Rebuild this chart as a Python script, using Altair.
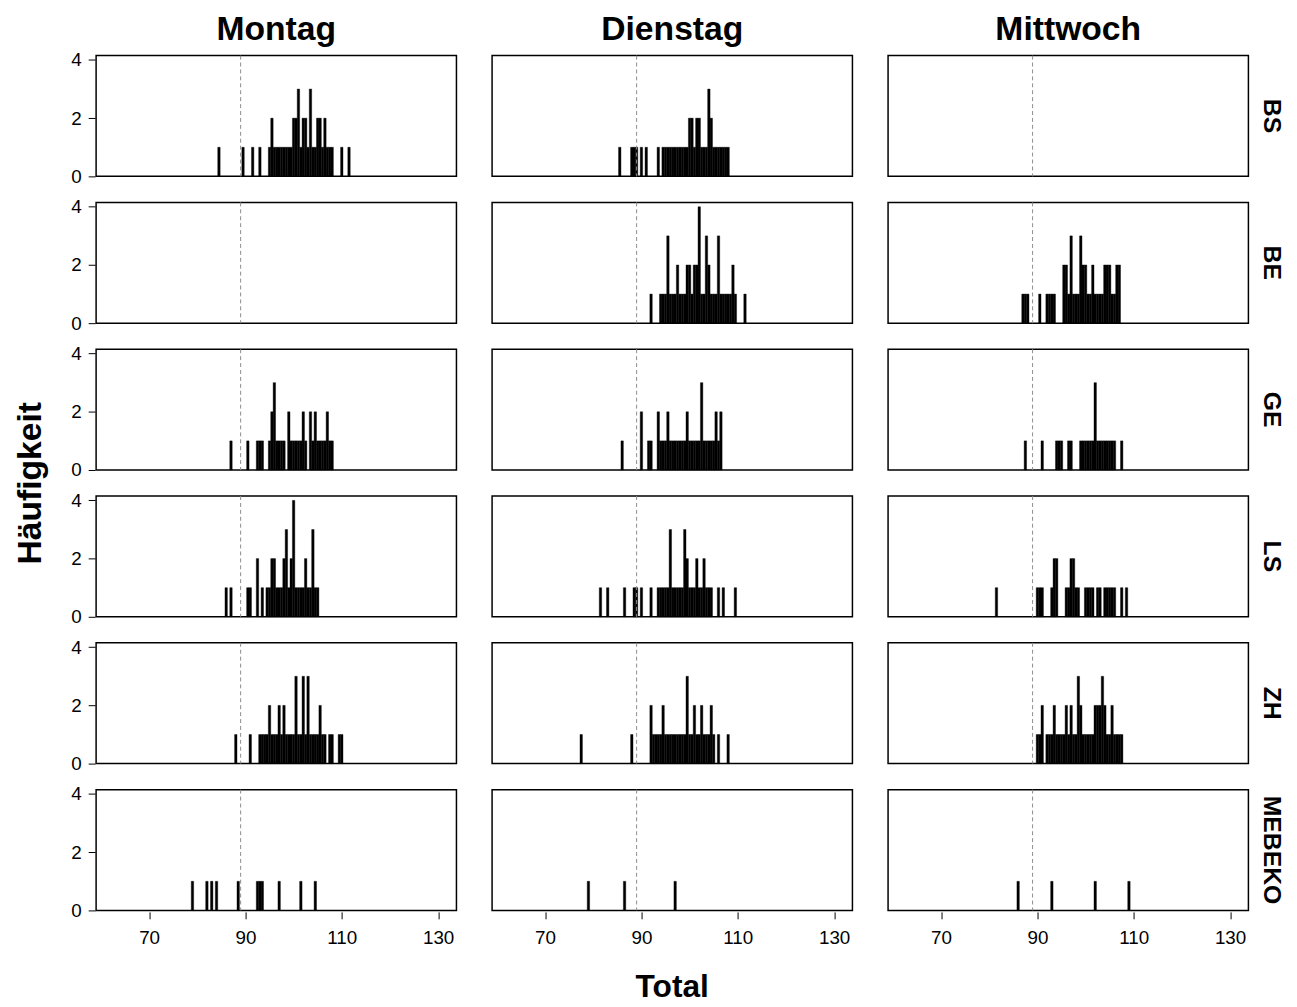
import altair as alt
import pandas as pd

days = ["Montag", "Dienstag", "Mittwoch"]
sites = ["BS", "BE", "GE", "LS", "ZH", "MEBEKO"]
cutoff = 89
x_ticks = [70, 90, 110, 130]
y_ticks = [0, 2, 4]

# bin centres (bin width 0.5) and frequencies, one pair of lists per panel
bs_mo_x = [84.5, 89.5, 91.5, 93, 95, 95.5, 96, 96.5, 97, 97.5, 98, 98.5, 99, 99.5, 100, 100.5, 101, 101.5,
           102, 102.5, 103, 103.5, 104, 104.5, 105, 105.5, 106, 106.5, 107, 107.5, 108, 110, 111.5]
bs_mo_n = [1, 1, 1, 1, 1, 2, 1, 1, 1, 1, 1, 1, 1, 1, 2, 2, 3, 1,
           2, 2, 1, 3, 1, 1, 2, 2, 1, 2, 1, 1, 1, 1, 1]
bs_di_x = [85.5, 88, 88.5, 89, 90, 91, 93.5, 94.5, 95, 95.5, 96, 96.5, 97, 97.5, 98, 98.5, 99, 99.5, 100,
           100.5, 101, 101.5, 102, 102.5, 103, 103.5, 104, 104.5, 105, 105.5, 106, 106.5, 107, 107.5, 108]
bs_di_n = [1, 1, 1, 1, 1, 1, 1, 1, 1, 1, 1, 1, 1, 1, 1, 1, 1, 1, 2,
           2, 1, 2, 2, 1, 1, 1, 3, 2, 1, 1, 1, 1, 1, 1, 1]
bs_mi_x = []
bs_mi_n = []

be_mo_x = []
be_mo_n = []
be_di_x = [92, 94, 94.5, 95, 95.5, 96, 96.5, 97, 97.5, 98, 98.5, 99, 99.5, 100, 100.5, 101, 101.5, 102,
           102.5, 103, 103.5, 104, 104.5, 105, 105.5, 106, 106.5, 107, 107.5, 108, 108.5, 109, 109.5, 111.5]
be_di_n = [1, 1, 1, 1, 3, 1, 1, 1, 2, 1, 1, 1, 2, 2, 1, 2, 2, 4,
           1, 1, 3, 2, 1, 1, 1, 3, 1, 1, 1, 1, 1, 2, 1, 1]
be_mi_x = [87, 87.5, 88, 90.5, 92, 92.5, 93, 93.5, 95.5, 96, 96.5, 97, 97.5, 98, 98.5, 99, 99.5, 100,
           100.5, 101, 101.5, 102, 102.5, 103, 103.5, 104, 104.5, 105, 105.5, 106, 106.5, 107]
be_mi_n = [1, 1, 1, 1, 1, 1, 1, 1, 2, 2, 1, 3, 1, 1, 1, 3, 2, 2,
           1, 1, 2, 1, 1, 1, 1, 2, 2, 2, 1, 1, 2, 2]

ge_mo_x = [87, 90.5, 92.5, 93, 93.5, 95, 95.5, 96, 96.5, 97, 97.5, 98, 99, 99.5, 100, 100.5, 101, 101.5,
           102, 102.5, 103.5, 104, 104.5, 105, 105.5, 106, 106.5, 107, 107.5, 108]
ge_mo_n = [1, 1, 1, 1, 1, 1, 2, 3, 1, 1, 1, 1, 2, 1, 1, 1, 1, 1,
           2, 1, 2, 1, 2, 1, 1, 1, 1, 2, 1, 1]
ge_di_x = [86, 90, 91.5, 92, 93.5, 94, 94.5, 95, 95.5, 96, 96.5, 97, 97.5, 98, 98.5, 99, 99.5, 100,
           100.5, 101, 101.5, 102, 102.5, 103, 103.5, 104, 104.5, 105, 105.5, 106, 106.5]
ge_di_n = [1, 2, 1, 1, 2, 1, 1, 1, 2, 1, 1, 1, 1, 1, 1, 1, 2, 1,
           1, 1, 1, 1, 3, 1, 1, 1, 1, 1, 2, 1, 2]
ge_mi_x = [87.5, 91, 94, 94.5, 95, 96.5, 97, 99, 99.5, 100, 100.5, 101, 101.5, 102, 102.5, 103, 103.5,
           104, 104.5, 105, 105.5, 106, 107.5]
ge_mi_n = [1, 1, 1, 1, 1, 1, 1, 1, 1, 1, 1, 1, 1, 3, 1, 1, 1,
           1, 1, 1, 1, 1, 1]

ls_mo_x = [86, 87, 90.5, 91, 92.5, 93.5, 94.5, 95, 95.5, 96, 96.5, 97, 97.5, 98, 98.5, 99, 99.5, 100,
           100.5, 101, 101.5, 102, 102.5, 103, 103.5, 104, 104.5, 105]
ls_mo_n = [1, 1, 1, 1, 2, 1, 1, 1, 2, 2, 1, 1, 1, 2, 3, 1, 2, 4,
           1, 1, 1, 1, 2, 1, 1, 3, 1, 1]
ls_di_x = [81.5, 83, 86.5, 88.5, 89, 90, 92, 93.5, 94, 94.5, 95, 95.5, 96, 96.5, 97, 97.5, 98, 98.5, 99,
           99.5, 100, 100.5, 101, 101.5, 102, 102.5, 103, 103.5, 104, 104.5, 106, 107, 109.5]
ls_di_n = [1, 1, 1, 1, 1, 1, 1, 1, 1, 1, 1, 1, 3, 1, 1, 1, 1, 1, 3,
           2, 1, 1, 1, 2, 1, 1, 2, 1, 1, 1, 1, 1, 1]
ls_mi_x = [81.5, 90, 90.5, 91, 93, 93.5, 94, 96, 96.5, 97, 97.5, 98, 98.5, 100, 100.5, 101, 101.5,
           102.5, 103, 104, 104.5, 105, 105.5, 106, 107.5, 108.5]
ls_mi_n = [1, 1, 1, 1, 1, 2, 2, 1, 1, 2, 2, 1, 1, 1, 1, 1, 1,
           1, 1, 1, 1, 1, 1, 1, 1, 1]

zh_mo_x = [88, 91, 93, 93.5, 94, 94.5, 95, 95.5, 96, 96.5, 97, 97.5, 98, 98.5, 99, 99.5, 100, 100.5,
           101, 101.5, 102, 102.5, 103, 103.5, 104, 104.5, 105, 105.5, 106, 106.5, 107.5, 108, 109.5, 110]
zh_mo_n = [1, 1, 1, 1, 1, 1, 2, 1, 1, 1, 2, 1, 2, 1, 1, 1, 1, 3,
           1, 1, 3, 1, 3, 1, 1, 1, 1, 2, 1, 1, 1, 1, 1, 1]
zh_di_x = [77.5, 88, 92, 92.5, 93, 93.5, 94, 94.5, 95, 95.5, 96, 96.5, 97, 97.5, 98, 98.5, 99, 99.5,
           100, 100.5, 101, 101.5, 102, 102.5, 103, 103.5, 104, 104.5, 105, 106, 108]
zh_di_n = [1, 1, 2, 1, 1, 1, 1, 2, 1, 1, 1, 1, 1, 1, 1, 1, 1, 3,
           1, 1, 2, 1, 1, 2, 1, 1, 1, 2, 1, 1, 1]
zh_mi_x = [90, 90.5, 91, 92, 92.5, 93, 93.5, 94, 94.5, 95, 95.5, 96, 96.5, 97, 97.5, 98, 98.5, 99,
           99.5, 100, 100.5, 101, 101.5, 102, 102.5, 103, 103.5, 104, 104.5, 105, 105.5, 106, 106.5,
           107, 107.5]
zh_mi_n = [1, 1, 2, 1, 1, 1, 2, 1, 1, 1, 1, 2, 1, 2, 1, 1, 3, 2,
           1, 1, 1, 1, 1, 2, 2, 2, 3, 2, 1, 1, 2, 1, 1,
           1, 1]

me_mo_x = [79, 82, 83, 84, 88.5, 92.5, 93, 93.5, 97, 101.5, 104.5]
me_mo_n = [1, 1, 1, 1, 1, 1, 1, 1, 1, 1, 1]
me_di_x = [79, 86.5, 97]
me_di_n = [1, 1, 1]
me_mi_x = [86, 93, 102, 109]
me_mi_n = [1, 1, 1, 1]

panels = {
    ("BS", "Montag"): (bs_mo_x, bs_mo_n), ("BS", "Dienstag"): (bs_di_x, bs_di_n), ("BS", "Mittwoch"): (bs_mi_x, bs_mi_n),
    ("BE", "Montag"): (be_mo_x, be_mo_n), ("BE", "Dienstag"): (be_di_x, be_di_n), ("BE", "Mittwoch"): (be_mi_x, be_mi_n),
    ("GE", "Montag"): (ge_mo_x, ge_mo_n), ("GE", "Dienstag"): (ge_di_x, ge_di_n), ("GE", "Mittwoch"): (ge_mi_x, ge_mi_n),
    ("LS", "Montag"): (ls_mo_x, ls_mo_n), ("LS", "Dienstag"): (ls_di_x, ls_di_n), ("LS", "Mittwoch"): (ls_mi_x, ls_mi_n),
    ("ZH", "Montag"): (zh_mo_x, zh_mo_n), ("ZH", "Dienstag"): (zh_di_x, zh_di_n), ("ZH", "Mittwoch"): (zh_mi_x, zh_mi_n),
    ("MEBEKO", "Montag"): (me_mo_x, me_mo_n), ("MEBEKO", "Dienstag"): (me_di_x, me_di_n), ("MEBEKO", "Mittwoch"): (me_mi_x, me_mi_n),
}

half = 0.25
rows = []
for (site, day), (xs, ns) in panels.items():
    for v, n in zip(xs, ns):
        rows.append(dict(site=site, day=day, kind="bar", lo=v - half, hi=v + half, n=n, base=0))
for site in sites:
    for day in days:
        rows.append(dict(site=site, day=day, kind="rule", lo=cutoff, hi=cutoff, n=0, base=0))
df = pd.DataFrame(rows)

FONT = "Liberation Sans"

xscale = alt.Scale(domain=[59, 133.8], nice=False, zero=False)
yscale = alt.Scale(domain=[0, 4.15], nice=False)

bars = alt.Chart().mark_bar(color="black", stroke="black", strokeWidth=0.4).encode(
    x=alt.X("lo:Q", scale=xscale, axis=alt.Axis(values=x_ticks, title=None, labelPadding=10)),
    x2="hi:Q",
    y=alt.Y("n:Q", scale=yscale, axis=alt.Axis(values=y_ticks, title=None, labelPadding=7)),
    y2="base:Q",
).transform_filter(alt.datum.kind == "bar")

rule = alt.Chart().mark_rule(color="#8c8c8c", strokeDash=[4, 3], strokeWidth=1).encode(
    x=alt.X("lo:Q", scale=xscale)
).transform_filter(alt.datum.kind == "rule")

chart = alt.layer(bars, rule, data=df).properties(width=364, height=122).facet(
    row=alt.Row("site:N", sort=sites,
                header=alt.Header(title="Häufigkeit", titleOrient="left", titleAngle=-90,
                                  titleFont=FONT, titleFontSize=34, titleFontWeight="bold",
                                  titleColor="black", titlePadding=-21,
                                  labelOrient="right", labelAngle=90, labelFont=FONT,
                                  labelFontSize=25, labelFontWeight="bold", labelColor="black",
                                  labelPadding=10)),
    column=alt.Column("day:N", sort=days,
                      header=alt.Header(title="Total", titleOrient="bottom",
                                        titleFont=FONT, titleFontSize=32, titleFontWeight="bold",
                                        titleColor="black", titlePadding=15,
                                        labelOrient="top", labelFont=FONT, labelFontSize=34,
                                        labelFontWeight="bold", labelColor="black", labelPadding=7)),
    spacing={"row": 22.3, "column": 34},
).properties(
    padding={"left": 5, "right": 5, "top": 0, "bottom": 0}
).configure_view(
    stroke="black", strokeWidth=1.5
).configure_axis(
    grid=False, domain=False, tickColor="black", tickSize=7, tickWidth=1,
    labelFont=FONT, labelFontSize=19, labelColor="black"
)

chart.save("out.html", embed_options={"renderer": "svg", "actions": False})
